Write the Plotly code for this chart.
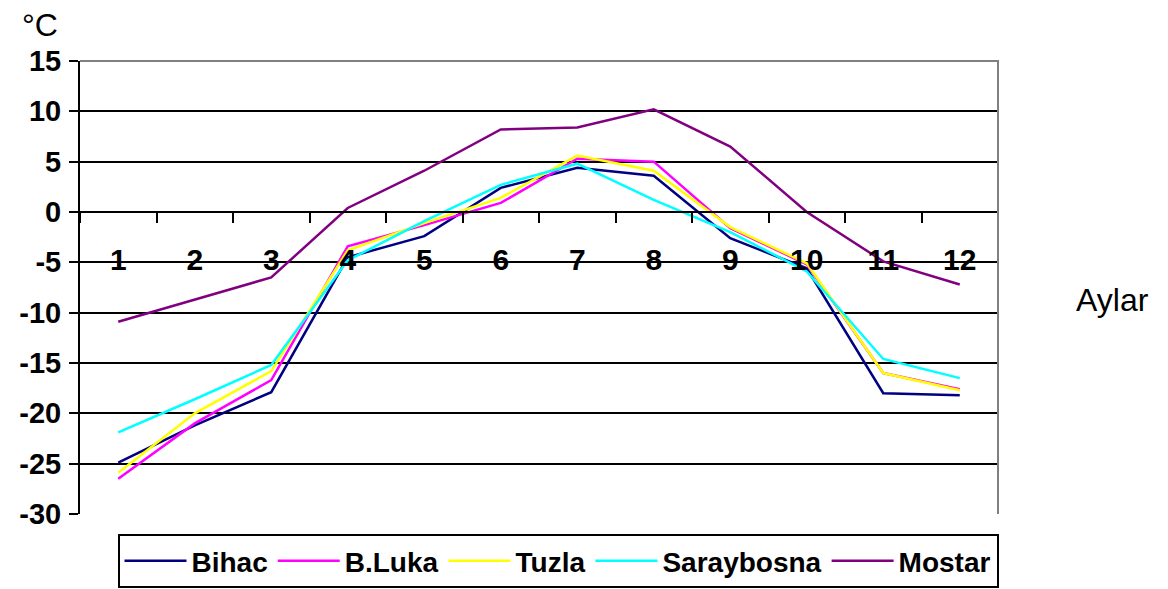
import plotly.graph_objects as go

months = ["1", "2", "3", "4", "5", "6", "7", "8", "9", "10", "11", "12"]
bihac = [-24.9, -21.2, -17.9, -4.5, -2.4, 2.4, 4.4, 3.6, -2.6, -5.6, -18.0, -18.2]
bluka = [-26.5, -21.0, -16.7, -3.4, -1.3, 0.9, 5.3, 5.0, -1.6, -5.2, -16.0, -17.6]
tuzla = [-25.9, -20.0, -15.8, -3.8, -1.1, 1.4, 5.6, 4.1, -1.5, -5.1, -16.0, -17.7]
saraybosna = [-21.9, -18.6, -15.2, -4.8, -0.9, 2.7, 4.8, 1.2, -2.0, -5.9, -14.6, -16.5]
mostar = [-10.9, -8.7, -6.5, 0.4, 4.1, 8.2, 8.4, 10.2, 6.5, 0.0, -4.9, -7.2]

y_tickvals = [15, 10, 5, 0, -5, -10, -15, -20, -25, -30]
y_ticktext = ["15", "10", "5", "0", "-5", "-10", "-15", "-20", "-25", "-30"]

series = [
    ("Bihac", bihac, "#000080"),
    ("B.Luka", bluka, "#FF00FF"),
    ("Tuzla", tuzla, "#FFFF00"),
    ("Saraybosna", saraybosna, "#00FFFF"),
    ("Mostar", mostar, "#800080"),
]

FONT = "Arial, 'Liberation Sans', sans-serif"

fig = go.Figure()
for name, vals, color in series:
    fig.add_trace(go.Scatter(x=months, y=vals, name=name, mode="lines",
                             line=dict(color=color, width=2.5)))

fig.update_layout(
    width=1168, height=589,
    margin=dict(l=72, r=178, t=53, b=83, autoexpand=False),
    plot_bgcolor="white", paper_bgcolor="white",
    font=dict(family=FONT, color="black"),
    xaxis=dict(
        type="category", range=[-0.5, 11.5], automargin=False,
        anchor="free", position=30 / 45,
        showline=True, linecolor="black", linewidth=2,
        ticks="outside", ticklen=10, tickwidth=2, tickcolor="black",
        tickson="boundaries", showgrid=False,
        tickfont=dict(size=30, family=FONT, weight="bold"),
        ticklabelstandoff=21,
    ),
    yaxis=dict(
        range=[-30, 15], automargin=False,
        tickmode="array", tickvals=y_tickvals, ticktext=y_ticktext,
        showline=True, linecolor="black", linewidth=2,
        ticks="outside", ticklen=9, tickwidth=2, tickcolor="black",
        showgrid=True, gridcolor="black", gridwidth=2,
        zeroline=True, zerolinecolor="black", zerolinewidth=2,
        tickfont=dict(size=29, family=FONT, weight="bold"),
        ticklabelstandoff=2,
    ),
    legend=dict(
        orientation="h", xref="container", yref="container",
        x=550 / 1168, xanchor="center", y=1 - 526 / 589, yanchor="top",
        bordercolor="black", borderwidth=2, bgcolor="white",
        font=dict(size=28, family=FONT, weight="bold"),
        itemwidth=62, tracegroupgap=0,
    ),
    shapes=[
        dict(type="path", xref="paper", yref="paper",
             path="M 0,1 L 1,1 L 1,0", line=dict(color="#808080", width=2),
             layer="above"),
    ],
    annotations=[
        dict(text="°C", xref="paper", yref="paper", x=-0.044, y=1.08,
             xanchor="center", yanchor="middle", showarrow=False,
             font=dict(size=32, family=FONT)),
        dict(text="Aylar", xref="paper", yref="paper", x=1.125, y=0.472,
             xanchor="center", yanchor="middle", showarrow=False,
             font=dict(size=32, family=FONT)),
    ],
)

fig.write_html("out.html")
